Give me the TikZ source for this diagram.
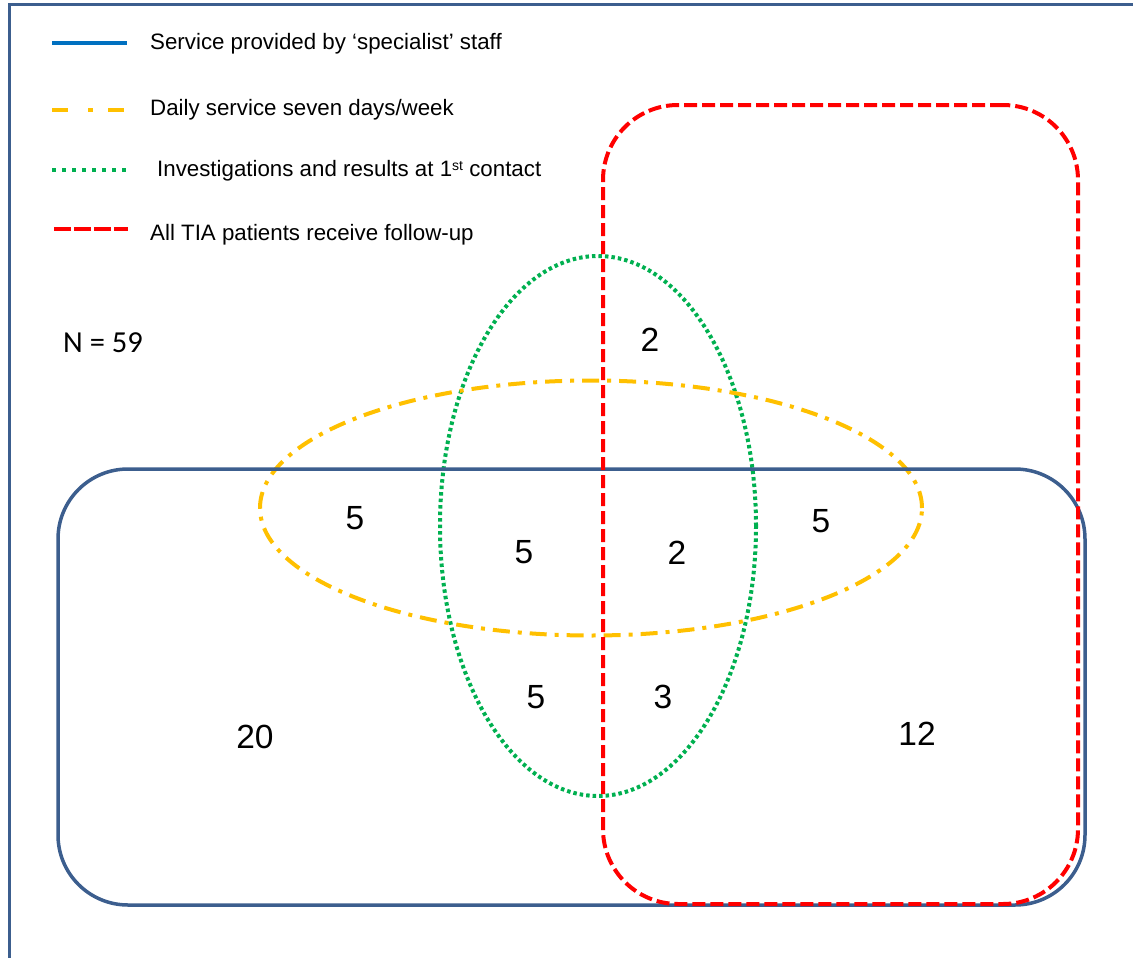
\documentclass[tikz,border=0pt]{standalone}
\usepackage{fontspec}
\setmainfont{Liberation Sans}
\newfontfamily\calib{Carlito}
\usetikzlibrary{shapes.geometric}
\definecolor{steel}{HTML}{3C5E8E}
\definecolor{legblue}{HTML}{0070C0}
\definecolor{gold}{HTML}{FFC000}
\definecolor{vgreen}{HTML}{00B050}
\definecolor{vred}{HTML}{FF0000}
\tikzset{
  setbox/.style={draw=steel, line width=3.5pt, rectangle, rounded corners=70pt, inner sep=0pt, outer sep=0pt},
  redbox/.style={draw=vred, line width=4pt, rectangle, rounded corners=75pt, inner sep=0pt, outer sep=0pt, dash pattern=on 13pt off 5pt},
  goldell/.style={draw=gold, line width=4pt, ellipse, inner sep=0pt, outer sep=0pt, dash pattern=on 17pt off 8pt on 4pt off 8pt},
  greenell/.style={draw=vgreen, line width=4pt, ellipse, inner sep=0pt, outer sep=0pt, dash pattern=on 3.5pt off 3pt},
  num/.style={font=\fontsize{33.5}{40}\selectfont, inner sep=0pt},
  legtext/.style={font=\fontsize{22.3}{27}\selectfont, anchor=west, inner sep=0pt},
  legline/.style={line width=4pt},
  frameline/.style={draw=steel, line width=3pt}
}
\begin{document}
\begin{tikzpicture}[x=1pt,y=-1pt]
\useasboundingbox (0,0) rectangle (1133,958);
\draw[frameline] (9,958) -- (9,5) -- (1133,5);
% shapes
\node[greenell, minimum width=316pt, minimum height=540pt] (green) at (598,526) {};
\node[goldell, minimum width=662pt, minimum height=255pt] (gold) at (591,508) {};
\node[setbox, minimum width=1027pt, minimum height=436pt] (blue) at (571.5,687) {};
\node[redbox, minimum width=475pt, minimum height=799pt] (red) at (840.5,504.5) {};
% legend
\coordinate (l1a) at (52,43); \coordinate (l1b) at (127,43);
\coordinate (l2a) at (52,110); \coordinate (l2b) at (127,110);
\coordinate (l3a) at (52,170); \coordinate (l3b) at (128,170);
\coordinate (l4a) at (54,229); \coordinate (l4b) at (128,229);
\draw[legline, legblue] (l1a) -- (l1b);
\draw[legline, gold, dash pattern=on 16pt off 20pt on 5pt off 15pt] (l2a) -- (l2b);
\draw[legline, vgreen, dash pattern=on 4pt off 6pt] (l3a) -- (l3b);
\draw[legline, vred, dash pattern=on 17pt off 3pt] (l4a) -- (l4b);
\node[legtext] (t1) at (150,44) {Service provided by ‘specialist’ staff};
\node[legtext] (t2) at (150,110) {Daily service seven days/week};
\node[legtext] (t3) at (157,171) {Investigations and results at 1{\fontsize{14}{16}\selectfont\raisebox{0.45em}{st}} contact};
\node[legtext] (t4) at (150,235) {All TIA patients receive follow-up};
\node[font=\calib\fontsize{30.5}{36}\selectfont, inner sep=0pt] (n) at (103,343) {N = 59};
% numbers
\node[num] (a) at (650,340) {2};
\node[num] (b) at (355,518) {5};
\node[num] (c) at (524,552) {5};
\node[num] (d) at (677,553) {2};
\node[num] (e) at (821,521) {5};
\node[num] (f) at (536,697) {5};
\node[num] (g) at (663,697) {3};
\node[num] (h) at (255,737) {20};
\node[num] (i) at (917,734) {12};
\end{tikzpicture}
\end{document}
